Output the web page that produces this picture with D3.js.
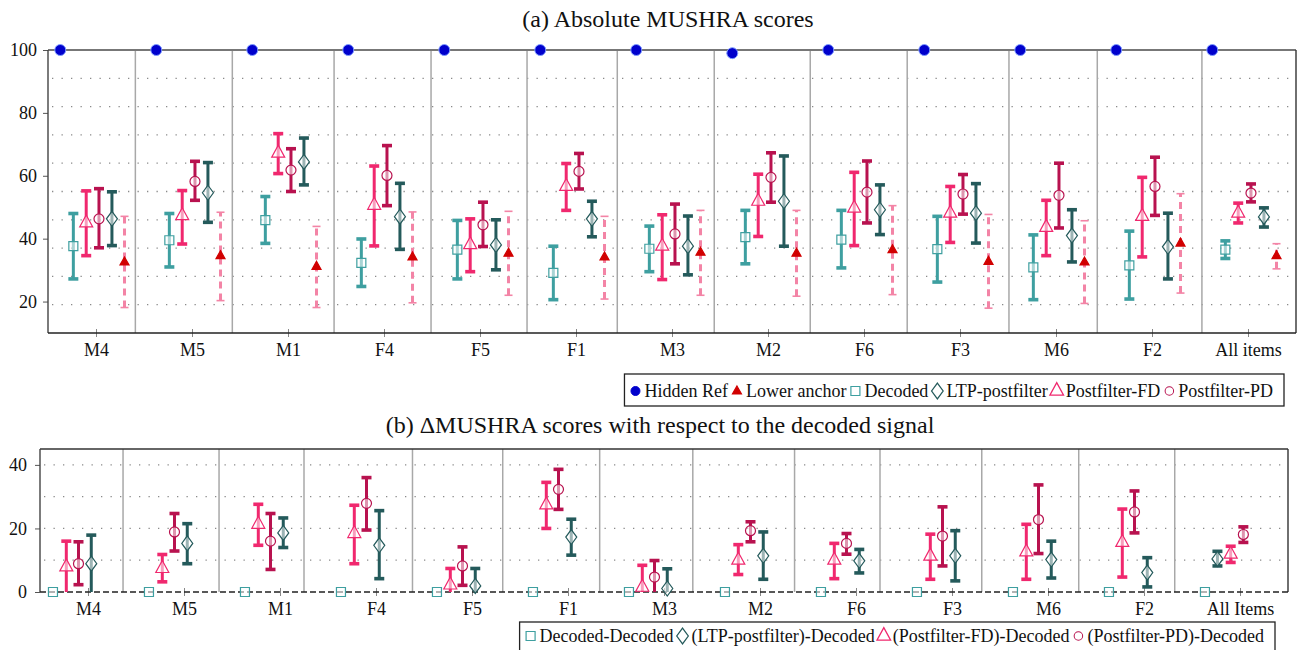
<!DOCTYPE html>
<html>
<head>
<meta charset="utf-8">
<script src="https://cdn.jsdelivr.net/npm/d3@7/dist/d3.min.js"></script>
<style>
body{margin:0;background:#fff;}
svg text{font-family:'Liberation Serif',serif;fill:#111;}
</style>
</head>
<body>
<div id="container"></div>
<script>
let w = 1300;
let h = 650;
let serif = "'Liberation Serif', serif";

// ---- data ----
let itemsA = ["M4","M5","M1","F4","F5","F1","M3","M2","F6","F3","M6","F2","All items"];
let itemsB = ["M4","M5","M1","F4","F5","F1","M3","M2","F6","F3","M6","F2","All Items"];

// group separators (in item units)
let sepA = [1.41,2.42,3.48,4.49,5.49,6.43,7.44,8.44,9.45,10.51,11.43,12.52];
let sepB = [1.365,2.365,3.25,4.38,5.32,6.33,7.30,8.36,9.25,10.31,11.32,12.32];

let ticksA = [20,40,60,80,100];
let gridA = [19,28,37,46,55,64,73,82,91];
let ticksB = [0,20,40];
let gridB = [10,20,30,40];

// (a) absolute scores: [mean, low, high]
let hiddenRef = [100,100,100,100,100,100,100,99,100,100,100,100,100];
let anchor = [
  [32.6,18.1,47.1],[34.6,20.3,48.4],[31.2,18.1,43.9],[34.2,19.6,48.5],
  [35.4,22.0,48.7],[34.2,20.8,47.1],[35.7,22.0,49.0],[35.4,21.7,49.0],
  [36.5,22.2,50.5],[32.8,17.9,47.7],[32.6,19.4,45.7],[38.6,22.7,54.3],
  [34.6,30.4,38.4]
];
let decoded = [
  [37.6,27.2,48.0],[39.5,31.0,48.0],[45.9,38.5,53.4],[32.3,24.8,39.9],
  [36.5,27.2,45.8],[29.1,20.6,37.6],[36.8,29.5,44.0],[40.5,32.0,49.0],
  [39.7,30.7,49.0],[36.7,26.2,47.1],[30.9,20.6,41.2],[31.5,20.8,42.4],
  [36.5,33.7,39.3]
];
let ltp = [
  [46.3,37.8,54.9],[54.6,45.2,64.2],[64.4,57.1,72.0],[47.0,36.6,57.6],
  [38.0,30.1,46.0],[46.3,40.6,51.9],[37.6,28.5,47.2],[51.9,37.6,66.3],
  [49.2,41.3,57.1],[48.1,38.6,57.5],[41.0,32.6,49.2],[37.4,27.2,48.1],
  [46.9,43.7,49.8]
];
let postFD = [
  [45.0,34.6,55.2],[47.3,38.3,55.3],[67.2,60.7,73.4],[50.6,37.7,63.1],
  [38.1,29.5,46.3],[56.6,49.0,63.9],[37.6,27.0,47.6],[51.9,40.7,60.5],
  [49.7,37.8,61.1],[48.1,38.8,56.6],[43.6,34.6,52.2],[47.1,34.2,59.5],
  [48.1,45.0,51.3]
];
let postPD = [
  [46.3,37.1,55.9],[58.2,52.2,64.6],[61.8,55.0,68.6],[60.1,50.5,69.6],
  [44.4,37.5,51.6],[61.4,55.8,67.1],[41.5,32.0,51.0],[59.5,51.6,67.3],
  [54.8,45.0,64.7],[54.2,47.8,60.4],[53.8,43.4,64.0],[56.6,47.4,65.9],
  [54.5,51.7,57.4]
];

// (b) differences to decoded: [mean, low, high]
let dDecoded = [0,0,0,0,0,0,0,0,0,0,0,0,0];
let dLtp = [
  [8.9,-1.5,17.9],[15.3,8.9,21.5],[18.6,14.0,23.3],[14.7,4.2,25.6],
  [1.9,-1.5,7.4],[17.3,11.6,22.9],[1.1,-1.5,7.3],[11.4,4.0,18.9],
  [9.8,6.0,13.4],[11.4,3.5,19.3],[10.2,4.4,16.0],[6.1,1.6,10.8],
  [10.4,8.2,12.8]
];
let dFD = [
  [7.9,-1.5,16.0],[7.4,3.2,11.8],[21.3,14.7,27.6],[18.4,8.9,27.3],
  [2.2,-1.5,7.4],[27.4,20.0,34.5],[1.5,-1.5,8.4],[10.0,5.5,14.9],
  [10.0,4.2,15.3],[11.3,4.0,18.2],[12.6,4.0,21.3],[15.6,4.7,26.1],
  [11.9,9.3,14.4]
];
let dPD = [
  [8.9,2.3,15.8],[18.9,12.9,24.7],[16.0,7.1,24.7],[27.9,19.5,36.0],
  [8.2,2.1,14.2],[32.3,26.0,38.6],[4.7,-1.5,9.9],[19.3,15.8,22.1],
  [15.3,11.9,18.4],[17.6,8.2,26.8],[22.8,12.1,33.7],[25.2,18.6,31.8],
  [18.1,15.6,20.5]
];

let legendA = ["Hidden Ref","Lower anchor","Decoded","LTP-postfilter","Postfilter-FD","Postfilter-PD"];
let legendB = ["Decoded-Decoded","(LTP-postfilter)-Decoded","(Postfilter-FD)-Decoded","(Postfilter-PD)-Decoded"];

// ---- colours ----
let cRef = "#0000cc";
let cAnchor = "#d10000";
let cAnchorBar = "#f384a6";
let cDec = "#3e9fa0";
let cLtp = "#245a5b";
let cFD = "#f0286e";
let cPD = "#b8124f";

// marker paths
function markerPath(type) {
  if (type == "square") { return "M-4.5,-4.5h9v9h-9Z"; }
  if (type == "diamond") { return "M0,-7.5L5.5,0L0,7.5L-5.5,0Z"; }
  if (type == "triangle") { return "M0,-8L6.5,4L-6.5,4Z"; }
  if (type == "circle") { return "M-5,0A5,5 0 1,0 5,0A5,5 0 1,0 -5,0Z"; }
  if (type == "smalltri") { return "M0,-5L4.5,3L-4.5,3Z"; }
  if (type == "dot") { return "M-5.5,0A5.5,5.5 0 1,0 5.5,0A5.5,5.5 0 1,0 -5.5,0Z"; }
}

let svg = d3.select("#container").append("svg")
  .attr("width", w)
  .attr("height", h);

function errorSeries(panel, data, off, color, marker, opts) {
  opts = opts || {};
  let g = panel.gBars.append("g");
  let grp = g.selectAll("g").data(data).enter().append("g")
    .attr("transform", function(d, i) { return "translate(" + panel.x(i + 1 + off(i)) + ",0)"; });
  let barColor = opts.barColor || color;
  grp.append("line")
    .attr("y1", d => panel.y(d[1])).attr("y2", d => panel.y(d[2]))
    .attr("stroke", barColor).attr("stroke-width", 3)
    .attr("stroke-dasharray", opts.dashed ? "7,5" : null);
  let capW = opts.dashed ? 4 : 5;
  let capS = opts.dashed ? 1.6 : 3.6;
  [1, 2].forEach(function(k) {
    grp.append("line")
      .attr("x1", -capW).attr("x2", capW)
      .attr("y1", d => panel.y(d[k])).attr("y2", d => panel.y(d[k]))
      .attr("stroke", barColor).attr("stroke-width", capS);
  });
  let mg = panel.gMarks.append("g");
  mg.selectAll("path").data(data).enter().append("path")
    .attr("d", markerPath(marker))
    .attr("transform", function(d, i) { return "translate(" + panel.x(i + 1 + off(i)) + "," + panel.y(d[0]) + ")"; })
    .attr("fill", opts.filled ? color : "white")
    .attr("fill-opacity", opts.filled ? 1 : 0.55)
    .attr("stroke", color)
    .attr("stroke-width", 1.2);
}

function makePanel(cfg) {
  let p = {};
  p.x = d3.scaleLinear().domain([0.5, 13.5]).range([cfg.left, cfg.right]);
  p.y = d3.scaleLinear().domain(cfg.yDomain).range([cfg.bottom, cfg.top]);
  let g = svg.append("g");

  // dotted grid
  g.selectAll(".grid").data(cfg.grid).enter().append("line")
    .attr("x1", cfg.left + 4).attr("x2", cfg.right - 3)
    .attr("y1", d => p.y(d)).attr("y2", d => p.y(d))
    .attr("stroke", "#8a8a8a").attr("stroke-width", 1.3)
    .attr("stroke-dasharray", "1.3,8.2");

  // group separators
  g.selectAll(".sep").data(cfg.seps).enter().append("line")
    .attr("x1", d => p.x(d)).attr("x2", d => p.x(d))
    .attr("y1", cfg.top).attr("y2", cfg.bottom)
    .attr("stroke", "#a8a8a8").attr("stroke-width", 1.5);

  // axes
  let yAxis = d3.axisLeft(p.y).tickValues(cfg.yTicks).tickSize(5).tickPadding(cfg.yPad);
  let yg = g.append("g").attr("transform", "translate(" + cfg.left + ",0)").call(yAxis);
  yg.select(".domain").remove();
  yg.selectAll("line").attr("stroke", "#555");
  yg.selectAll("text").style("font-size", "18px").style("font-family", serif).attr("fill", "#111");

  let xAxis = d3.axisBottom(p.x).tickValues(d3.range(1, 14))
    .tickFormat(i => cfg.items[i - 1]).tickSize(4).tickPadding(6);
  let xg = g.append("g").attr("transform", "translate(0," + cfg.bottom + ")").call(xAxis);
  xg.select(".domain").remove();
  xg.selectAll("line").attr("y1", -4).attr("stroke", "#888");
  xg.selectAll("text").style("font-size", "18px").style("font-family", serif).attr("fill", "#111");

  // frame
  g.append("line").attr("x1", cfg.left).attr("x2", cfg.right).attr("y1", cfg.top).attr("y2", cfg.top)
    .attr("stroke", cfg.topColor).attr("stroke-width", cfg.topWidth);
  g.append("line").attr("x1", cfg.left).attr("x2", cfg.left).attr("y1", cfg.top).attr("y2", cfg.bottom)
    .attr("stroke", "#444").attr("stroke-width", 1.4);
  g.append("line").attr("x1", cfg.right).attr("x2", cfg.right).attr("y1", cfg.top).attr("y2", cfg.bottom)
    .attr("stroke", "#333").attr("stroke-width", 1.4);
  g.append("line").attr("x1", cfg.left).attr("x2", cfg.right).attr("y1", cfg.bottom).attr("y2", cfg.bottom)
    .attr("stroke", "#222").attr("stroke-width", 1.4)
    .attr("stroke-dasharray", cfg.dashedBottom ? "6,3" : null);

  // clip for bars
  let clipId = "clip" + cfg.id;
  svg.append("clipPath").attr("id", clipId).append("rect")
    .attr("x", cfg.left).attr("y", cfg.top - 20).attr("width", cfg.right - cfg.left)
    .attr("height", cfg.bottom - cfg.top + 20);
  p.gBars = g.append("g").attr("clip-path", "url(#" + clipId + ")");
  p.gMarks = g.append("g");

  // title
  svg.append("text").attr("x", (cfg.left + cfg.right) / 2 - 4).attr("y", cfg.titleY)
    .attr("text-anchor", "middle").style("font-size", "24px").style("font-family", serif)
    .text(cfg.title);
  return p;
}

function legendBox(entries, shapes, rightX, topY, baseY, bottomY) {
  let lg = svg.append("g");
  let inner = lg.append("g");
  let cursor = 0;
  entries.forEach(function(e, i) {
    let s = shapes[i];
    inner.append("path").attr("d", markerPath(s.m))
      .attr("transform", "translate(" + (cursor + 5) + "," + (baseY - 6) + ") scale(" + (s.k || 1) + ")")
      .attr("fill", s.fill ? s.c : "none").attr("stroke", s.c).attr("stroke-width", 1.2);
    let t = inner.append("text").attr("x", cursor + 14).attr("y", baseY)
      .style("font-size", "18px").style("font-family", serif).text(e);
    cursor = cursor + 14 + t.node().getComputedTextLength() + 4;
  });
  let total = cursor - 4;
  let x0 = rightX - 11 - total;
  inner.attr("transform", "translate(" + x0 + ",0)");
  lg.insert("rect", ":first-child")
    .attr("x", x0 - 6).attr("y", topY).attr("width", rightX - (x0 - 6)).attr("height", bottomY - topY)
    .attr("fill", "white").attr("stroke", "#222").attr("stroke-width", 1.3);
}

// ---- panel (a) ----
let pa = makePanel({
  id: "a", left: 48, right: 1296, top: 50, bottom: 333,
  yDomain: [10, 100], yTicks: ticksA, grid: gridA, seps: sepA, items: itemsA,
  yPad: 6, title: "(a) Absolute MUSHRA scores", titleY: 27,
  topColor: "#777", topWidth: 2.2, dashedBottom: false
});
errorSeries(pa, decoded, i => -0.236, cDec, "square");
errorSeries(pa, postFD, i => -0.102, cFD, "triangle");
errorSeries(pa, postPD, i => 0.031, cPD, "circle");
errorSeries(pa, ltp, i => 0.166, cLtp, "diamond");
errorSeries(pa, anchor, i => 0.297, cAnchor, "smalltri", { filled: true, dashed: true, barColor: cAnchorBar });
pa.gMarks.append("g").selectAll("path").data(hiddenRef).enter().append("path")
  .attr("d", markerPath("dot"))
  .attr("transform", (d, i) => "translate(" + pa.x(i + 1 - 0.372) + "," + pa.y(d) + ")")
  .attr("fill", cRef).attr("stroke", "#7f9cff").attr("stroke-width", 1);

legendBox(legendA, [
  { m: "dot", c: cRef, fill: true, k: 0.82 },
  { m: "smalltri", c: cAnchor, fill: true, k: 1 },
  { m: "square", c: cDec },
  { m: "diamond", c: cLtp, k: 1.05 },
  { m: "triangle", c: cFD, k: 1.05 },
  { m: "circle", c: cPD, k: 0.85 }
], 1284, 374, 397, 406);

// ---- panel (b) ----
let pb = makePanel({
  id: "b", left: 40, right: 1288, top: 449, bottom: 592,
  yDomain: [0, 45], yTicks: ticksB, grid: gridB, seps: sepB, items: itemsB,
  yPad: 8, title: "(b) \u0394MUSHRA scores with respect to the decoded signal", titleY: 433,
  topColor: "#333", topWidth: 1.4, dashedBottom: true
});
let last = itemsB.length - 1;
errorSeries(pb, dFD, i => i == last ? -0.097 : -0.226, cFD, "triangle");
errorSeries(pb, dPD, i => i == last ? 0.035 : -0.099, cPD, "circle");
errorSeries(pb, dLtp, i => i == last ? -0.235 : 0.034, cLtp, "diamond");
pb.gMarks.append("g").selectAll("path").data(dDecoded).enter().append("path")
  .attr("d", markerPath("square"))
  .attr("transform", (d, i) => "translate(" + pb.x(i + 1 - 0.365) + "," + pb.y(d) + ")")
  .attr("fill", "white").attr("fill-opacity", 0.55)
  .attr("stroke", cDec).attr("stroke-width", 1.2);

legendBox(legendB, [
  { m: "square", c: cDec },
  { m: "diamond", c: cLtp, k: 1.05 },
  { m: "triangle", c: cFD, k: 1.05 },
  { m: "circle", c: cPD, k: 0.85 }
], 1275, 622, 642, 656);
</script>
</body>
</html>
